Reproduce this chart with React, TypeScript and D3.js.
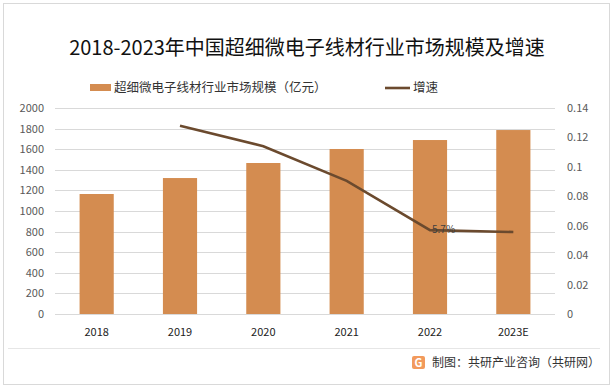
import { useEffect, useRef } from "react";
import * as d3 from "d3";

const years = ["2018", "2019", "2020", "2021", "2022", "2023E"];
const marketSize = [1165, 1320, 1466, 1602, 1689, 1786];
const growthYears = ["2019", "2020", "2021", "2022", "2023E"];
const growthRate = [0.128, 0.114, 0.0905, 0.057, 0.0557];
const leftTicks = [0, 200, 400, 600, 800, 1000, 1200, 1400, 1600, 1800, 2000];
const rightTicks = [0, 0.02, 0.04, 0.06, 0.08, 0.1, 0.12, 0.14];

const App = () => {
  const svgRef = useRef<SVGSVGElement | null>(null);

  useEffect(() => {
    if (!svgRef.current) return;
    const width = 614;
    const height = 388;
    const svg = d3.select(svgRef.current);
    svg.selectAll("*").remove();
    const font = "'Microsoft YaHei', 'Noto Sans CJK SC', sans-serif";

    svg.append("rect").attr("width", width).attr("height", height).attr("fill", "#fff");
    svg
      .append("rect")
      .attr("x", 3.5)
      .attr("y", 3.5)
      .attr("width", 606)
      .attr("height", 381)
      .attr("fill", "none")
      .attr("stroke", "#d9d9d9");

    const x = d3.scaleBand<string>().domain(years).range([55, 555]).paddingInner(0.59).paddingOuter(0.295);
    const y = d3.scaleLinear().domain([0, 2000]).range([314, 108]);
    const y2 = d3.scaleLinear().domain([0, 0.14]).range([314, 108]);

    // grid
    svg
      .append("g")
      .selectAll("line")
      .data(leftTicks)
      .enter()
      .append("line")
      .attr("x1", 55)
      .attr("x2", 555)
      .attr("y1", (d) => Math.round(y(d)) + 0.5)
      .attr("y2", (d) => Math.round(y(d)) + 0.5)
      .attr("stroke", "#d9d9d9");

    // left axis labels
    svg
      .append("g")
      .selectAll("text")
      .data(leftTicks)
      .enter()
      .append("text")
      .attr("x", 44)
      .attr("y", (d) => y(d) + 4)
      .attr("text-anchor", "end")
      .attr("font-size", 11)
      .attr("font-family", font)
      .attr("fill", "#595959")
      .text((d) => d);

    svg
      .append("g")
      .selectAll("text")
      .data(rightTicks)
      .enter()
      .append("text")
      .attr("x", 567)
      .attr("y", (d) => y2(d) + 4)
      .attr("font-size", 11)
      .attr("font-family", font)
      .attr("fill", "#595959")
      .text((d) => d);

    // bars
    svg
      .append("g")
      .selectAll("rect")
      .data(marketSize)
      .enter()
      .append("rect")
      .attr("x", (d, i) => x(years[i])!)
      .attr("width", x.bandwidth())
      .attr("y", (d) => y(d))
      .attr("height", (d) => y(0) - y(d))
      .attr("fill", "#d48c50");

    // x labels
    svg
      .append("g")
      .selectAll("text")
      .data(years)
      .enter()
      .append("text")
      .attr("x", (d) => x(d)! + x.bandwidth() / 2)
      .attr("y", 336)
      .attr("text-anchor", "middle")
      .attr("font-size", 11)
      .attr("font-family", font)
      .attr("fill", "#222")
      .text((d) => d);

    // line
    const line = d3
      .line<number>()
      .x((d, i) => x(growthYears[i])! + x.bandwidth() / 2)
      .y((d) => y2(d));
    svg
      .append("path")
      .datum(growthRate)
      .attr("d", line)
      .attr("fill", "none")
      .attr("stroke", "#6b4a2e")
      .attr("stroke-width", 2.6);

    svg
      .append("text")
      .attr("x", x("2022")! + x.bandwidth() / 2 + 2)
      .attr("y", y2(growthRate[3]) + 3)
      .attr("font-size", 10)
      .attr("font-family", font)
      .attr("fill", "#404040")
      .text("5.7%");

    // title
    svg
      .append("text")
      .attr("x", 307)
      .attr("y", 55)
      .attr("text-anchor", "middle")
      .attr("font-size", 20)
      .attr("font-family", font)
      .attr("fill", "#111")
      .text("2018-2023年中国超细微电子线材行业市场规模及增速");

    // legend
    svg.append("rect").attr("x", 90).attr("y", 84).attr("width", 21).attr("height", 7).attr("fill", "#d48c50");
    svg
      .append("text")
      .attr("x", 114)
      .attr("y", 92)
      .attr("font-size", 12.5)
      .attr("font-family", font)
      .attr("fill", "#333")
      .text("超细微电子线材行业市场规模（亿元）");
    svg
      .append("line")
      .attr("x1", 385)
      .attr("x2", 410)
      .attr("y1", 88)
      .attr("y2", 88)
      .attr("stroke", "#6b4a2e")
      .attr("stroke-width", 2.6);
    svg
      .append("text")
      .attr("x", 413)
      .attr("y", 92)
      .attr("font-size", 12.5)
      .attr("font-family", font)
      .attr("fill", "#333")
      .text("增速");

    // footer
    svg
      .append("line")
      .attr("x1", 8)
      .attr("x2", 600)
      .attr("y1", 348.5)
      .attr("y2", 348.5)
      .attr("stroke", "#e6e6e6");
    const logo = svg.append("g").attr("transform", "translate(412,356)");
    logo.append("rect").attr("width", 13).attr("height", 13).attr("rx", 2).attr("fill", "#f29a5c");
    logo
      .append("text")
      .attr("x", 6.5)
      .attr("y", 11)
      .attr("text-anchor", "middle")
      .attr("font-size", 11)
      .attr("font-weight", "bold")
      .attr("font-family", font)
      .attr("fill", "#fff")
      .text("G");
    svg
      .append("text")
      .attr("x", 600)
      .attr("y", 367)
      .attr("text-anchor", "end")
      .attr("font-size", 12)
      .attr("font-family", font)
      .attr("fill", "#333")
      .text("制图：共研产业咨询（共研网）");
  }, []);

  return <svg ref={svgRef} width={614} height={388} style={{ position: "absolute", left: 0, top: 0 }}></svg>;
};

export default App;
